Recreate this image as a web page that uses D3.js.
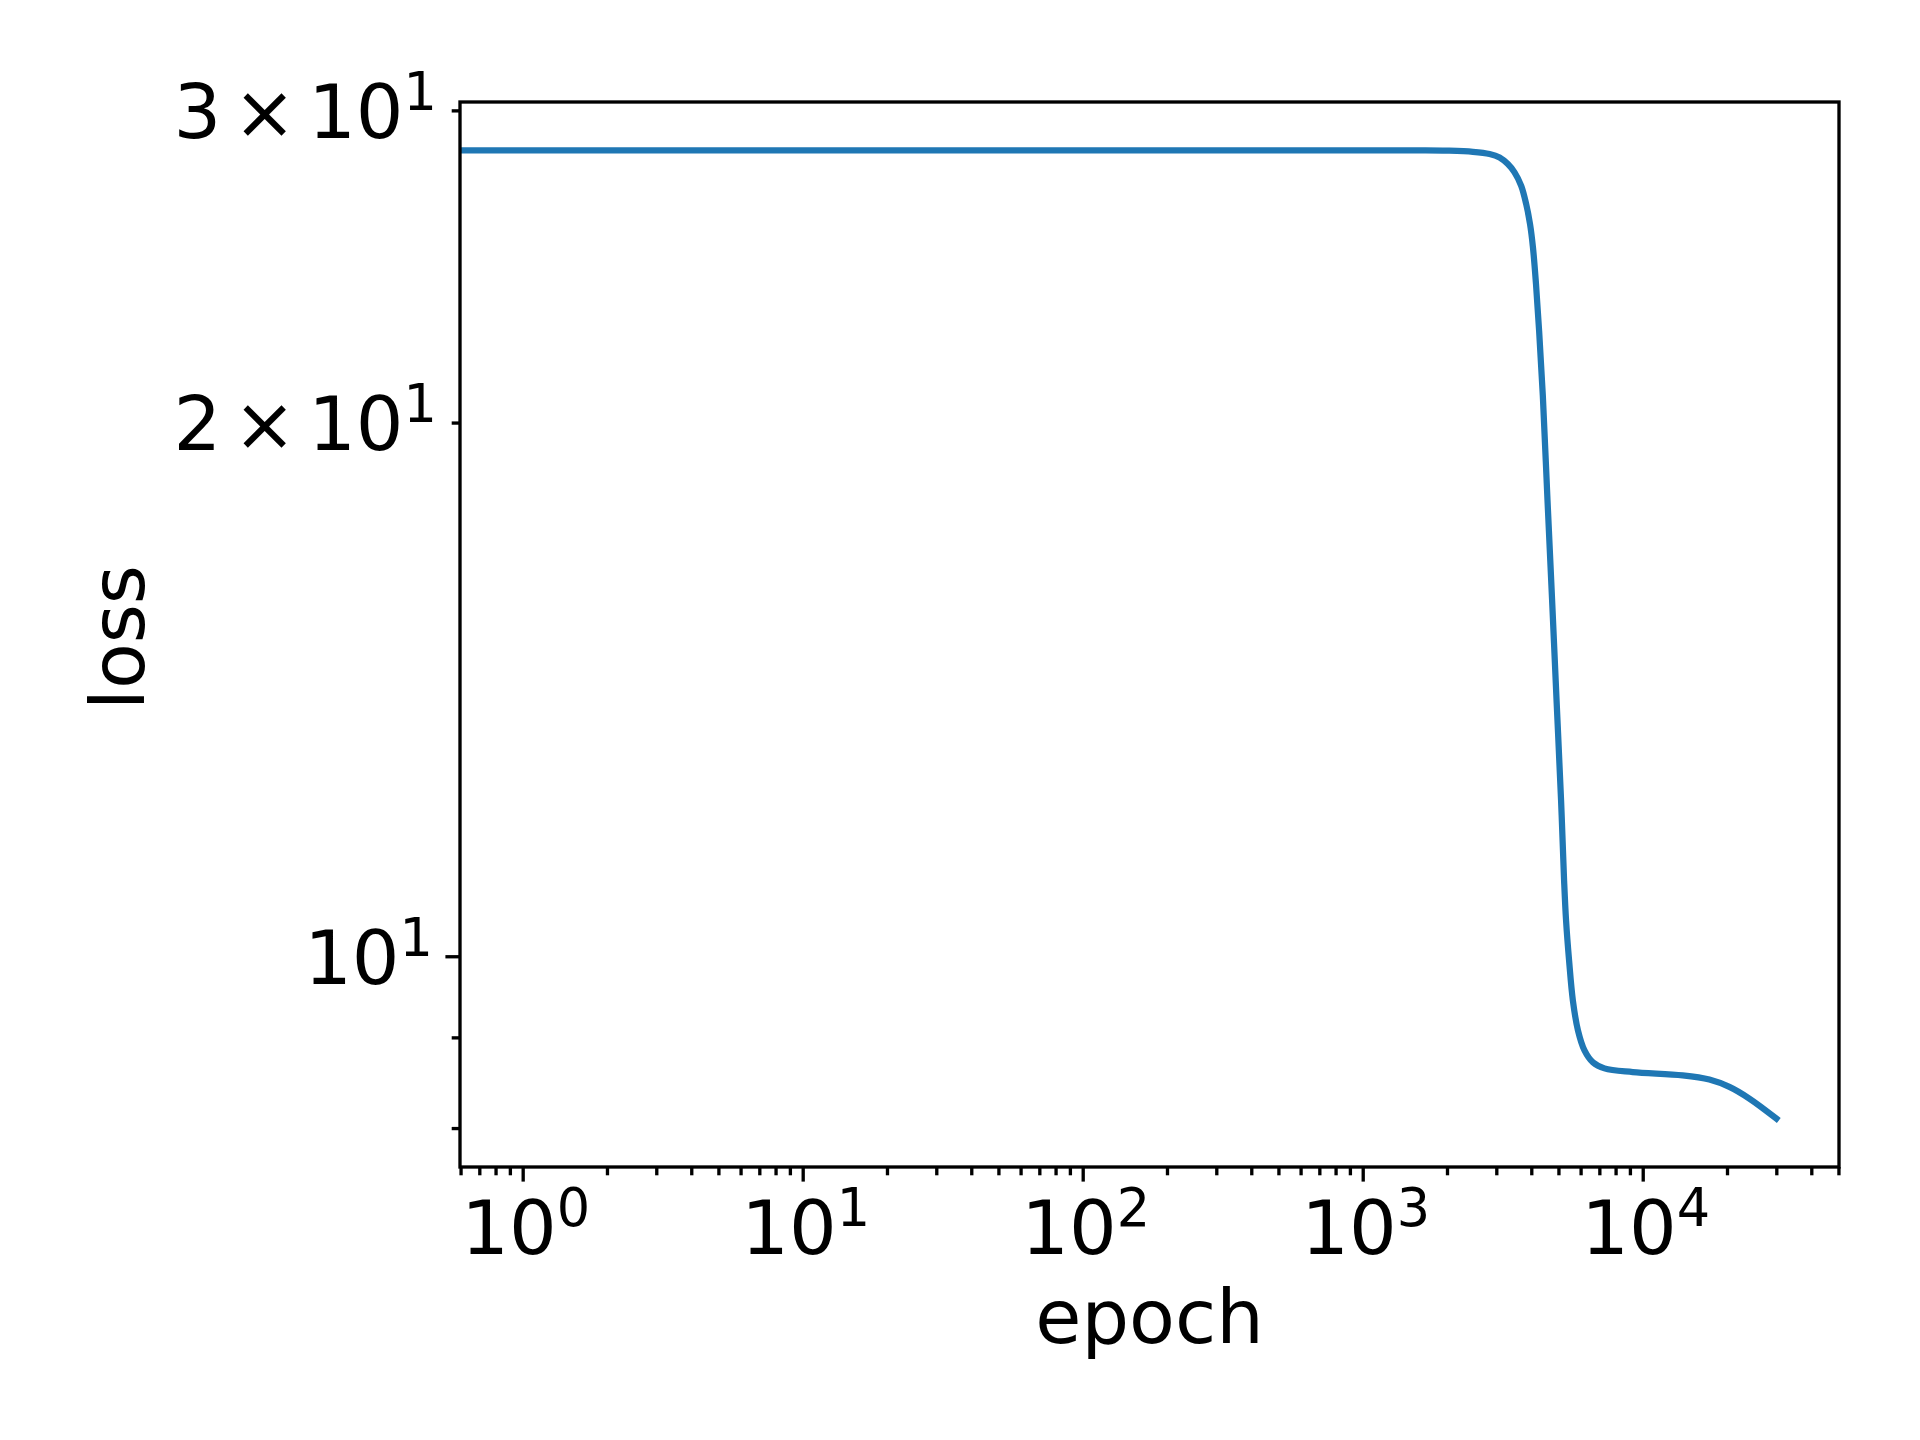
<!DOCTYPE html>
<meta charset="utf-8">
<script src="https://d3js.org/d3.v7.min.js"></script>
<style>
  body { margin: 0; background: #fff; }
  text { font-family: "DejaVu Sans", sans-serif; fill: #000; }
</style>
<div id="chart"></div>
<script>
// loss curve (first point sits left of the axis and is clipped)
var epochs = [0.5, 1, 10, 100, 1000, 1600, 2000, 2474, 2838, 3082, 3299, 3485, 3682, 3836, 3959,
    4054, 4158, 4266, 4398, 4571, 4747, 4924, 5110, 5239, 5325, 5458, 5631, 5872, 6194, 6643, 7302,
    9212, 13890, 17298, 20391, 24031, 30000];
var loss = [28.48, 28.48, 28.48, 28.48, 28.48, 28.48, 28.47, 28.43, 28.35, 28.22, 27.98, 27.68, 27.20, 26.56, 25.88,
    25.12, 23.94, 22.53, 20.71, 18.07, 15.87, 13.94, 12.24, 11.03, 10.47, 9.944, 9.441, 9.081, 8.849, 8.712, 8.645,
    8.604, 8.567, 8.520, 8.439, 8.312, 8.099];

// ticks
var xMajorTicks = [1, 10, 100, 1000, 10000];
var xMajorExp = ["0", "1", "2", "3", "4"];
var xMinorTicks = [0.6, 0.7, 0.8, 0.9,
    2, 3, 4, 5, 6, 7, 8, 9,
    20, 30, 40, 50, 60, 70, 80, 90,
    200, 300, 400, 500, 600, 700, 800, 900,
    2000, 3000, 4000, 5000, 6000, 7000, 8000, 9000,
    20000, 30000, 40000, 50000];
var yMajorTicks = [10];
var yMinorTicks = [8, 9, 20, 30];
var yLabelTicks = [30, 20, 10];
var yLabelMant = ["3", "2", ""];

var W = 1920, H = 1440;
var plotL = 460, plotR = 1839, plotT = 102, plotB = 1167;
var fs = 75, sup = 52.5;

var svg = d3.select("#chart").append("svg")
    .attr("width", W).attr("height", H);

// log-space 5% margins like matplotlib
function padLog(lo, hi) {
    var a = Math.log10(lo), b = Math.log10(hi), p = (b - a) * 0.05;
    return [Math.pow(10, a - p), Math.pow(10, b + p)];
}

var visibleEpochs = epochs.filter(function(e) { return e >= 1; });
var x = d3.scaleLog().domain(padLog(d3.min(visibleEpochs), d3.max(visibleEpochs))).range([plotL, plotR]);
var y = d3.scaleLog().domain(padLog(d3.min(loss), d3.max(loss))).range([plotB, plotT]);

var data = epochs.map(function(e, i) { return { e: e, v: loss[i] }; });

svg.append("clipPath").attr("id", "clip")
    .append("rect")
    .attr("x", plotL).attr("y", plotT)
    .attr("width", plotR - plotL).attr("height", plotB - plotT);

var line = d3.line()
    .x(function(d) { return x(d.e); })
    .y(function(d) { return y(d.v); })
    .curve(d3.curveCatmullRom.alpha(0.5));

svg.append("path")
    .datum(data)
    .attr("clip-path", "url(#clip)")
    .attr("d", line)
    .attr("fill", "none")
    .attr("stroke", "#1f77b4")
    .attr("stroke-width", 6.25)
    .attr("stroke-linecap", "square")
    .attr("stroke-linejoin", "round");

function styleAxis(g) {
    g.select(".domain").remove();
    g.selectAll(".tick line").attr("stroke", "#000").attr("stroke-width", 3.33);
}

svg.append("g").attr("transform", "translate(0," + plotB + ")")
    .call(d3.axisBottom(x).tickValues(xMajorTicks).tickSize(14.6).tickFormat(""))
    .call(styleAxis);
svg.append("g").attr("transform", "translate(0," + plotB + ")")
    .call(d3.axisBottom(x).tickValues(xMinorTicks.filter(function(t) { return t <= x.domain()[1] * 1.001; }))
        .tickSize(8.3).tickFormat(""))
    .call(styleAxis);
svg.append("g").attr("transform", "translate(" + plotL + ",0)")
    .call(d3.axisLeft(y).tickValues(yMajorTicks).tickSize(14.6).tickFormat(""))
    .call(styleAxis);
svg.append("g").attr("transform", "translate(" + plotL + ",0)")
    .call(d3.axisLeft(y).tickValues(yMinorTicks).tickSize(8.3).tickFormat(""))
    .call(styleAxis);

// frame
svg.append("rect")
    .attr("x", plotL).attr("y", plotT)
    .attr("width", plotR - plotL).attr("height", plotB - plotT)
    .attr("fill", "none").attr("stroke", "#000").attr("stroke-width", 3.33);

// x tick labels
var xl = svg.append("g").selectAll("text")
    .data(xMajorTicks)
    .enter().append("text")
    .attr("x", function(d) { return x(d) + 3; })
    .attr("y", 1254)
    .attr("text-anchor", "middle")
    .attr("font-size", fs);
xl.append("tspan").text("10");
xl.append("tspan").attr("dy", -28).attr("font-size", sup)
    .text(function(d, i) { return xMajorExp[i]; });

// y tick labels
var yl = svg.append("g").selectAll("text")
    .data(yLabelTicks)
    .enter().append("text")
    .attr("x", function(d, i) { return yLabelMant[i] ? 437 : 433; })
    .attr("y", function(d) { return y(d) + 27.5; })
    .attr("text-anchor", "end")
    .attr("font-size", fs);
yl.each(function(d, i) {
    var t = d3.select(this);
    if (yLabelMant[i]) {
        t.append("tspan").text(yLabelMant[i]);
        t.append("tspan").attr("dx", 12).text("\u00d7");
        t.append("tspan").attr("dx", 12).text("10");
    } else {
        t.append("tspan").text("10");
    }
    t.append("tspan").attr("dy", -28).attr("font-size", sup).text("1");
});

// axis titles
svg.append("text")
    .attr("x", (plotL + plotR) / 2)
    .attr("y", 1343)
    .attr("text-anchor", "middle")
    .attr("font-size", fs)
    .text("epoch");

svg.append("text")
    .attr("transform", "translate(144," + ((plotT + plotB) / 2 + 3) + ") rotate(-90)")
    .attr("text-anchor", "middle")
    .attr("font-size", fs)
    .text("loss");
</script>
